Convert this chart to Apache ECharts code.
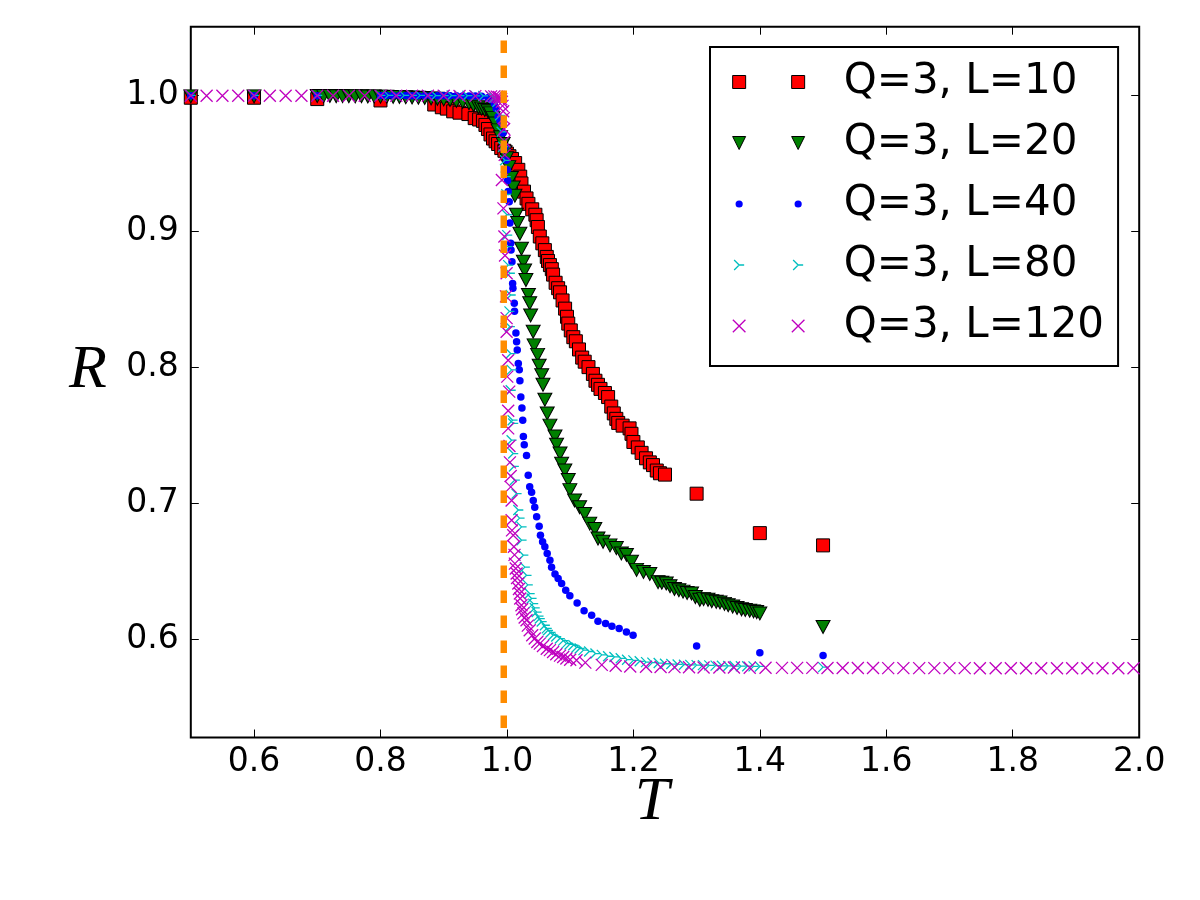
<!DOCTYPE html>
<html>
<head>
<meta charset="utf-8">
<script src="https://cdn.jsdelivr.net/npm/echarts@6.0.0/dist/echarts.min.js"></script>
<style>
  html, body { margin: 0; padding: 0; background: #fff; }
  #main { width: 1200px; height: 900px; }
</style>
</head>
<body>
<div id="main"></div>
<script>
// tick labels
const xTicks = [0.6, 0.8, 1.0, 1.2, 1.4, 1.6, 1.8, 2.0];
const yTicks = [0.6, 0.7, 0.8, 0.9, 1.0];

// critical temperature, drawn as the dashed vertical line
const tc = 0.995;
const tcLine = [[tc, 1.04], [tc, 0.53]];

const seriesNames = ['Q=3, L=10', 'Q=3, L=20', 'Q=3, L=40', 'Q=3, L=80', 'Q=3, L=120'];

// [T, R]
const L10 = [
  [0.50, 0.998], [0.60, 0.998], [0.70, 0.997], [0.80, 0.996],
  [0.885, 0.993], [0.897, 0.991], [0.905, 0.990], [0.915, 0.988], [0.925, 0.987], [0.939, 0.986],
  [0.949, 0.983], [0.956, 0.982], [0.962, 0.981], [0.966, 0.978], [0.970, 0.975], [0.974, 0.971],
  [0.978, 0.968], [0.982, 0.966], [0.986, 0.964], [0.991, 0.961], [0.996, 0.959], [1.000, 0.957],
  [1.004, 0.955], [1.008, 0.953], [1.013, 0.950], [1.018, 0.945], [1.021, 0.940], [1.023, 0.935],
  [1.027, 0.929], [1.031, 0.924], [1.034, 0.920], [1.040, 0.916], [1.045, 0.912], [1.047, 0.908],
  [1.049, 0.903], [1.052, 0.896], [1.056, 0.891], [1.060, 0.886], [1.063, 0.881], [1.065, 0.878],
  [1.068, 0.875], [1.071, 0.872], [1.073, 0.868], [1.077, 0.862], [1.081, 0.858], [1.084, 0.855],
  [1.088, 0.849], [1.092, 0.843], [1.095, 0.837], [1.097, 0.832], [1.101, 0.827], [1.105, 0.822],
  [1.109, 0.819], [1.114, 0.813], [1.119, 0.807], [1.123, 0.804], [1.129, 0.800], [1.136, 0.795],
  [1.140, 0.790], [1.144, 0.787], [1.148, 0.784], [1.155, 0.781], [1.160, 0.778], [1.165, 0.771],
  [1.169, 0.766], [1.173, 0.762], [1.176, 0.759], [1.183, 0.757], [1.194, 0.755], [1.197, 0.751],
  [1.200, 0.745], [1.207, 0.741], [1.213, 0.737], [1.220, 0.733], [1.226, 0.730], [1.231, 0.728],
  [1.237, 0.724], [1.242, 0.722], [1.250, 0.721], [1.300, 0.707], [1.400, 0.678], [1.500, 0.669]
];

const L20 = [
  [0.50, 0.999], [0.60, 0.999],
  [0.70, 0.9993], [0.71, 0.9992], [0.72, 0.9993], [0.73, 0.9991], [0.74, 0.9992], [0.75, 0.9991],
  [0.76, 0.9990], [0.77, 0.9991], [0.78, 0.9989], [0.79, 0.9990], [0.80, 0.9988], [0.81, 0.9987],
  [0.82, 0.9986], [0.83, 0.9985], [0.84, 0.9984], [0.85, 0.9982], [0.86, 0.9980], [0.87, 0.9978],
  [0.88, 0.9975], [0.89, 0.9972], [0.90, 0.9968], [0.91, 0.9963], [0.92, 0.9957], [0.93, 0.9950],
  [0.94, 0.9940], [0.947, 0.9926], [0.955, 0.991], [0.960, 0.990], [0.965, 0.989], [0.970, 0.988],
  [0.974, 0.9865], [0.978, 0.983], [0.982, 0.979], [0.986, 0.974], [0.990, 0.969], [0.994, 0.964],
  [0.997, 0.958], [0.9995, 0.9535], [1.003, 0.947], [1.007, 0.939], [1.010, 0.932], [1.0126, 0.926],
  [1.015, 0.912], [1.017, 0.906], [1.0205, 0.898], [1.023, 0.887], [1.026, 0.8775], [1.028, 0.871],
  [1.030, 0.864], [1.034, 0.853], [1.036, 0.847], [1.0375, 0.838], [1.0415, 0.826], [1.043, 0.816],
  [1.0485, 0.809], [1.051, 0.801], [1.055, 0.794], [1.057, 0.787], [1.060, 0.776], [1.0637, 0.766],
  [1.068, 0.757], [1.076, 0.749], [1.0785, 0.743], [1.084, 0.7365], [1.0865, 0.729], [1.0916, 0.724],
  [1.097, 0.717], [1.0995, 0.7096], [1.107, 0.702], [1.115, 0.697], [1.123, 0.692], [1.131, 0.685],
  [1.139, 0.681], [1.144, 0.674], [1.152, 0.6716], [1.163, 0.669], [1.173, 0.667], [1.181, 0.663],
  [1.189, 0.662], [1.197, 0.657], [1.205, 0.651], [1.216, 0.6495], [1.226, 0.648], [1.239, 0.642],
  [1.245, 0.6415], [1.252, 0.641], [1.258, 0.639], [1.265, 0.637], [1.272, 0.636], [1.2785, 0.635],
  [1.285, 0.634], [1.292, 0.6336], [1.298, 0.631], [1.305, 0.629], [1.311, 0.6295], [1.318, 0.629],
  [1.324, 0.628], [1.331, 0.6275], [1.337, 0.627], [1.344, 0.626], [1.350, 0.625], [1.357, 0.624],
  [1.364, 0.623], [1.371, 0.622], [1.377, 0.6215], [1.384, 0.621], [1.390, 0.6205], [1.395, 0.620],
  [1.400, 0.619], [1.500, 0.609]
];

const L40 = [
  [0.50, 0.9995], [0.60, 0.9995], [0.70, 0.9995],
  [0.80, 0.9996], [0.81, 0.9996], [0.82, 0.9996], [0.83, 0.9996], [0.84, 0.9996], [0.85, 0.9995],
  [0.86, 0.9995], [0.87, 0.9995], [0.88, 0.9995], [0.89, 0.9995], [0.90, 0.9994], [0.91, 0.9994],
  [0.92, 0.9994], [0.93, 0.9993], [0.94, 0.9993], [0.95, 0.9992], [0.96, 0.9990], [0.97, 0.998],
  [0.975, 0.9965], [0.980, 0.9935], [0.983, 0.990], [0.986, 0.984], [0.989, 0.981], [0.9916, 0.979],
  [0.994, 0.972], [0.997, 0.962], [0.999, 0.952], [1.0005, 0.945], [1.001, 0.937], [1.002, 0.929],
  [1.0036, 0.9215], [1.0047, 0.906], [1.006, 0.891], [1.0065, 0.886], [1.008, 0.8775], [1.009, 0.8615],
  [1.0095, 0.858], [1.0116, 0.847], [1.012, 0.841], [1.0142, 0.825], [1.0153, 0.8186], [1.0163, 0.8125],
  [1.018, 0.8027], [1.0195, 0.798], [1.0205, 0.790], [1.022, 0.778], [1.0237, 0.770], [1.025, 0.761],
  [1.026, 0.749], [1.0274, 0.743], [1.031, 0.735], [1.0337, 0.7206], [1.036, 0.712], [1.039, 0.708],
  [1.0416, 0.702], [1.044, 0.697], [1.047, 0.690], [1.051, 0.683], [1.053, 0.6765], [1.0564, 0.6716],
  [1.060, 0.668], [1.0637, 0.663], [1.068, 0.658], [1.0706, 0.653], [1.076, 0.648], [1.081, 0.6446],
  [1.0865, 0.641], [1.093, 0.636], [1.0995, 0.632], [1.111, 0.6267], [1.122, 0.621], [1.134, 0.6176],
  [1.144, 0.6132], [1.156, 0.6115], [1.166, 0.6096], [1.1775, 0.608], [1.189, 0.6054], [1.1995, 0.603],
  [1.300, 0.595], [1.400, 0.590], [1.500, 0.588]
];

const L80 = [
  [0.50, 0.9997], [0.60, 0.9997], [0.70, 0.9997], [0.80, 0.9997], [0.8125, 0.9997], [0.825, 0.9997],
  [0.8375, 0.9997], [0.85, 0.9997], [0.8625, 0.9997], [0.875, 0.9996], [0.8875, 0.9996], [0.90, 0.9996],
  [0.9125, 0.9996], [0.925, 0.9995], [0.9375, 0.9995], [0.95, 0.9994], [0.9625, 0.9993], [0.975, 0.999],
  [0.980, 0.998], [0.985, 0.995], [0.989, 0.985], [0.9916, 0.973], [0.994, 0.962], [0.997, 0.952],
  [0.998, 0.940], [0.999, 0.927], [1.000, 0.912], [1.0005, 0.897], [1.000, 0.8885], [1.002, 0.875],
  [1.0047, 0.869], [1.006, 0.853], [1.004, 0.841], [1.0047, 0.8297], [1.006, 0.810], [1.0074, 0.798],
  [1.006, 0.783], [1.009, 0.761], [1.010, 0.7586], [1.0074, 0.7463], [1.010, 0.7365], [1.011, 0.727],
  [1.0126, 0.717], [1.0153, 0.707], [1.018, 0.695], [1.020, 0.689], [1.0232, 0.6826], [1.0232, 0.6728],
  [1.026, 0.6618], [1.0284, 0.653], [1.031, 0.647], [1.033, 0.640], [1.036, 0.6336], [1.039, 0.630],
  [1.0416, 0.6262], [1.044, 0.623], [1.047, 0.620], [1.050, 0.617], [1.052, 0.6152], [1.055, 0.613],
  [1.060, 0.6103], [1.063, 0.608], [1.065, 0.6066], [1.069, 0.605], [1.073, 0.603], [1.078, 0.602],
  [1.0837, 0.6005], [1.089, 0.599], [1.094, 0.5968], [1.099, 0.5962], [1.105, 0.5956], [1.110, 0.594],
  [1.115, 0.5932], [1.121, 0.592], [1.130, 0.591], [1.140, 0.5895], [1.150, 0.5885], [1.160, 0.5875],
  [1.170, 0.587], [1.180, 0.586], [1.190, 0.585], [1.200, 0.5845], [1.210, 0.5838], [1.220, 0.5832],
  [1.230, 0.5828], [1.240, 0.5825], [1.250, 0.582], [1.260, 0.5818], [1.270, 0.5815], [1.280, 0.5813],
  [1.290, 0.5812], [1.300, 0.581], [1.310, 0.581], [1.320, 0.5808], [1.330, 0.5806], [1.340, 0.5805],
  [1.350, 0.5804], [1.360, 0.5803], [1.370, 0.5802], [1.380, 0.5802], [1.390, 0.5801], [1.400, 0.580],
  [1.500, 0.5795]
];

const L120 = [
  [0.500, 0.9995], [0.525, 0.9995], [0.550, 0.9995], [0.575, 0.9995], [0.600, 0.9995], [0.625, 0.9995],
  [0.650, 0.9995], [0.675, 0.9995], [0.700, 0.9995], [0.725, 0.9995], [0.750, 0.9995], [0.775, 0.9995],
  [0.800, 0.9995], [0.825, 0.9995], [0.850, 0.9995], [0.875, 0.9994], [0.900, 0.9994], [0.925, 0.9993],
  [0.950, 0.9992], [0.975, 0.9990], [0.980, 0.9990], [0.984, 0.9988], [0.987, 0.9985], [0.989, 0.9980],
  [0.991, 0.9970], [0.992, 0.9950], [0.993, 0.9920], [0.994, 0.9880], [0.995, 0.9830], [0.9955, 0.975],
  [0.996, 0.966], [0.9965, 0.956], [0.992, 0.9375], [0.9945, 0.9167], [0.996, 0.896], [0.997, 0.882],
  [0.9995, 0.869], [0.9985, 0.852], [0.9995, 0.836], [0.9995, 0.826], [1.002, 0.805], [1.0005, 0.793],
  [1.0036, 0.782], [1.002, 0.768], [1.002, 0.755], [1.004, 0.742], [1.0047, 0.730], [1.006, 0.720],
  [1.006, 0.712], [1.0074, 0.702], [1.0074, 0.6875], [1.008, 0.680], [1.010, 0.6765], [1.011, 0.668],
  [1.012, 0.662], [1.0126, 0.6556], [1.014, 0.652], [1.0153, 0.6483], [1.016, 0.645], [1.018, 0.641],
  [1.019, 0.637], [1.0205, 0.6336], [1.021, 0.630], [1.023, 0.625], [1.024, 0.622], [1.026, 0.619],
  [1.028, 0.616], [1.031, 0.614], [1.033, 0.610], [1.036, 0.6066], [1.040, 0.603], [1.044, 0.6005],
  [1.048, 0.598], [1.052, 0.5968], [1.057, 0.595], [1.063, 0.593], [1.068, 0.592], [1.073, 0.5907],
  [1.078, 0.589], [1.084, 0.588], [1.089, 0.587], [1.094, 0.5858], [1.100, 0.585], [1.110, 0.5846],
  [1.124, 0.5828], [1.150, 0.5812], [1.172, 0.5805], [1.195, 0.5800], [1.220, 0.5798], [1.243, 0.5796],
  [1.265, 0.5795], [1.288, 0.5794], [1.311, 0.5793], [1.336, 0.5792], [1.359, 0.5792], [1.384, 0.5791],
  [1.409, 0.5791], [1.435, 0.5790], [1.459, 0.5790], [1.483, 0.5790], [1.507, 0.5789], [1.531, 0.5789],
  [1.555, 0.5789], [1.579, 0.5789], [1.603, 0.5788], [1.627, 0.5788], [1.652, 0.5788], [1.676, 0.5788],
  [1.700, 0.5788], [1.724, 0.5788], [1.748, 0.5787], [1.773, 0.5787], [1.797, 0.5787], [1.821, 0.5787],
  [1.845, 0.5787], [1.870, 0.5787], [1.894, 0.5787], [1.918, 0.5787], [1.942, 0.5787], [1.967, 0.5787],
  [1.991, 0.5787]
];

// marker shapes (matplotlib 'tri_right' and 'x')
const triPath = 'path://M5,5L10,5M5,5L0,0M5,5L0,10';
const xPath = 'path://M0,0L10,10M10,0L0,10';

// legend shows two markers per entry, so the icons hold two shapes in a 72x13 box
const box = 'M0,0M72,13';
const legendIcons = [
  'path://M0,0h13v13h-13zM59,0h13v13h-13z',
  'path://M0,0h13l-6.5,13zM59,0h13l-6.5,13z',
  'path://' + box + 'M2.9,6.5a3.6,3.6 0 1 0 7.2,0a3.6,3.6 0 1 0 -7.2,0zM61.9,6.5a3.6,3.6 0 1 0 7.2,0a3.6,3.6 0 1 0 -7.2,0z',
  'path://' + box + 'M6.5,6.5L11.5,6.5M6.5,6.5L1.5,1.5M6.5,6.5L1.5,11.5M65.5,6.5L70.5,6.5M65.5,6.5L60.5,1.5M65.5,6.5L60.5,11.5',
  'path://' + box + 'M0.2,0.2L12.8,12.8M12.8,0.2L0.2,12.8M59.2,0.2L71.8,12.8M71.8,0.2L59.2,12.8'
];

const styles = [
  { color: '#ff0000', borderColor: '#000', borderWidth: 1, opacity: 1 },
  { color: '#008000', borderColor: '#000', borderWidth: 1, opacity: 1 },
  { color: '#0000ff', borderColor: '#0000ff', borderWidth: 0, opacity: 1 },
  { color: 'transparent', borderColor: '#00bfbf', borderWidth: 1.3, opacity: 1 },
  { color: 'transparent', borderColor: '#bf00bf', borderWidth: 1.3, opacity: 1 }
];

const chart = echarts.init(document.getElementById('main'), null, { renderer: 'canvas' });

function scatter(i, data, symbol, size, extra) {
  return Object.assign({
    type: 'scatter',
    name: seriesNames[i],
    data: data,
    symbol: symbol,
    symbolSize: size,
    itemStyle: styles[i],
    silent: true,
    emphasis: { disabled: true }
  }, extra || {});
}

const tickStyle = { color: '#000', width: 1 };
const labelFont = { fontFamily: 'DejaVu Sans', fontSize: 33, color: '#000' };
const nameFont = { fontFamily: 'Liberation Serif', fontStyle: 'italic', fontSize: 62, color: '#000' };

const option = {
  animation: false,
  backgroundColor: '#fff',
  grid: {
    left: 190.8, right: 60.8, top: 26.7, bottom: 162.5,
    show: true, borderColor: '#000', borderWidth: 2, backgroundColor: 'transparent',
    outerBoundsMode: 'none'
  },
  xAxis: [{
    type: 'value', min: 0.5, max: 2.0, position: 'bottom',
    axisLine: { show: false }, splitLine: { show: false },
    axisTick: { inside: true, length: 8, lineStyle: tickStyle, customValues: xTicks },
    axisLabel: Object.assign({ customValues: xTicks, margin: 8, formatter: v => v.toFixed(1) }, labelFont),
    name: 'T', nameLocation: 'middle', nameGap: 34, nameMoveOverlap: false,
    nameTextStyle: Object.assign({ padding: [0, 26, 0, 0] }, nameFont)
  }, {
    type: 'value', min: 0.5, max: 2.0, position: 'top',
    axisLine: { show: false }, splitLine: { show: false },
    axisTick: { inside: true, length: 8, lineStyle: tickStyle, customValues: xTicks },
    axisLabel: { show: false }
  }],
  yAxis: [{
    type: 'value', min: 0.5278, max: 1.0502, position: 'left',
    axisLine: { show: false }, splitLine: { show: false },
    axisTick: { inside: true, length: 8, lineStyle: tickStyle, customValues: yTicks },
    axisLabel: Object.assign({ customValues: yTicks, margin: 12, formatter: v => v.toFixed(1) }, labelFont),
    name: 'R', nameLocation: 'middle', nameGap: 84, nameRotate: 0, nameMoveOverlap: false,
    nameTextStyle: Object.assign({ verticalAlign: 'bottom', lineHeight: 22 }, nameFont)
  }, {
    type: 'value', min: 0.5278, max: 1.0502, position: 'right',
    axisLine: { show: false }, splitLine: { show: false },
    axisTick: { inside: true, length: 8, lineStyle: tickStyle, customValues: yTicks },
    axisLabel: { show: false }
  }],
  legend: {
    orient: 'vertical', left: 710, top: 47,
    padding: [13, 14, 18, 22],
    itemGap: 17, itemWidth: 72, itemHeight: 13,
    backgroundColor: '#fff', borderColor: '#000', borderWidth: 2, borderRadius: 0,
    selectedMode: false,
    textStyle: { fontFamily: 'DejaVu Sans', fontSize: 42, color: '#000', lineHeight: 44, padding: [0, 0, 0, 34] },
    data: seriesNames.map((n, i) => ({ name: n, icon: legendIcons[i], itemStyle: styles[i] }))
  },
  series: [
    scatter(0, L10, 'rect', 13),
    scatter(1, L20, 'triangle', [14, 13], { symbolRotate: 180 }),
    scatter(2, L40, 'circle', 7.5),
    scatter(3, L80, triPath, 10),
    scatter(4, L120, xPath, 12),
    {
      type: 'line', name: 'Tc', data: tcLine, symbol: 'none', silent: true, z: 5,
      lineStyle: { color: '#ff8c00', width: 6.5, type: [12.5, 12.5] }
    }
  ]
};

chart.setOption(option);
</script>
</body>
</html>
